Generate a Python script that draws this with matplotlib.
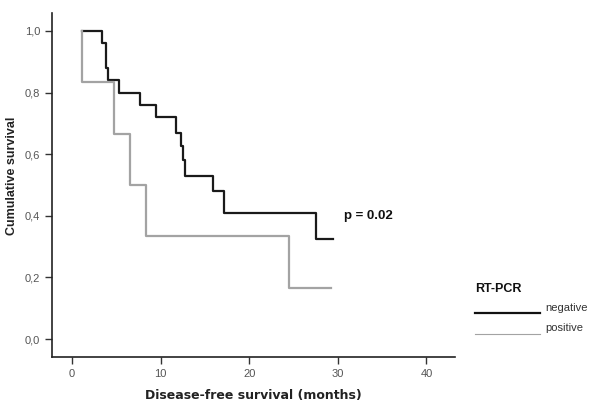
import matplotlib
matplotlib.use("Agg")
import matplotlib.pyplot as plt
from matplotlib.lines import Line2D

# Kaplan-Meier curves (months, cumulative survival)
neg_times = [1.15, 3.35, 3.83, 4.1, 5.3, 7.7, 9.5, 11.7, 12.25, 12.5, 12.7, 15.9, 17.1, 27.5, 29.4]
neg_surv = [1.0, 0.96, 0.88, 0.84, 0.80, 0.76, 0.72, 0.67, 0.625, 0.58, 0.53, 0.48, 0.41, 0.325, 0.325]

pos_times = [1.1, 1.1, 4.8, 6.6, 8.3, 24.5, 29.2]
pos_surv = [1.0, 0.833, 0.667, 0.5, 0.333, 0.167, 0.167]

x_ticks = [0, 10, 20, 30, 40]
y_ticks = [0.0, 0.2, 0.4, 0.6, 0.8, 1.0]
y_labels = ["0,0", "0,2", "0,4", "0,6", "0,8", "1,0"]

fig = plt.figure(figsize=(6, 4.07), dpi=100)
ax = fig.add_axes([0.0867, 0.1229, 0.6713, 0.8452])

ax.step(neg_times, neg_surv, where="post", color="#1a1a1a", lw=1.6)
ax.step(pos_times, pos_surv, where="post", color="#a3a3a3", lw=1.6)

ax.set_xlim(-2.25, 43.2)
ax.set_ylim(-0.058, 1.058)
ax.set_xticks(x_ticks)
ax.set_yticks(y_ticks)
ax.set_yticklabels(y_labels)
ax.tick_params(direction="out", length=5, width=1, color="#333333",
               labelsize=8, labelcolor="#555555")
for lab in ax.get_xticklabels() + ax.get_yticklabels():
    lab.set_family("Liberation Sans")

ax.spines["top"].set_visible(False)
ax.spines["right"].set_visible(False)
for s in ("left", "bottom"):
    ax.spines[s].set_color("#222222")
    ax.spines[s].set_linewidth(1.2)

ax.set_xlabel("Disease-free survival (months)", fontsize=9, fontweight="bold",
              color="#222222")
ax.xaxis.set_label_coords(0.5, -0.093)
ax.set_ylabel("Cumulative survival", fontsize=9, fontweight="bold",
              color="#222222", family="Liberation Sans")
ax.yaxis.set_label_coords(-0.085, 0.526)

ax.text(30.7, 0.40, "p = 0.02", fontsize=9.5, fontweight="bold",
        family="Liberation Sans", va="center", ha="left", color="#111111")

# legend drawn outside the axes, as in the original
fig.text(475 / 600, 1 - 289 / 407, "RT-PCR", fontsize=9, fontweight="bold",
         family="Liberation Sans", va="center", ha="left", color="#111111")
fig.add_artist(Line2D([475 / 600, 540 / 600], [1 - 313 / 407, 1 - 313 / 407],
                      color="#111111", lw=1.6))
fig.add_artist(Line2D([475 / 600, 540 / 600], [1 - 334 / 407, 1 - 334 / 407],
                      color="#a3a3a3", lw=0.8))
fig.text(545 / 600, 1 - 308 / 407, "negative", fontsize=8, family="Liberation Sans",
         va="center", ha="left", color="#333333")
fig.text(545 / 600, 1 - 328 / 407, "positive", fontsize=8, family="Liberation Sans",
         va="center", ha="left", color="#333333")

fig.savefig("out.png", dpi=100)
